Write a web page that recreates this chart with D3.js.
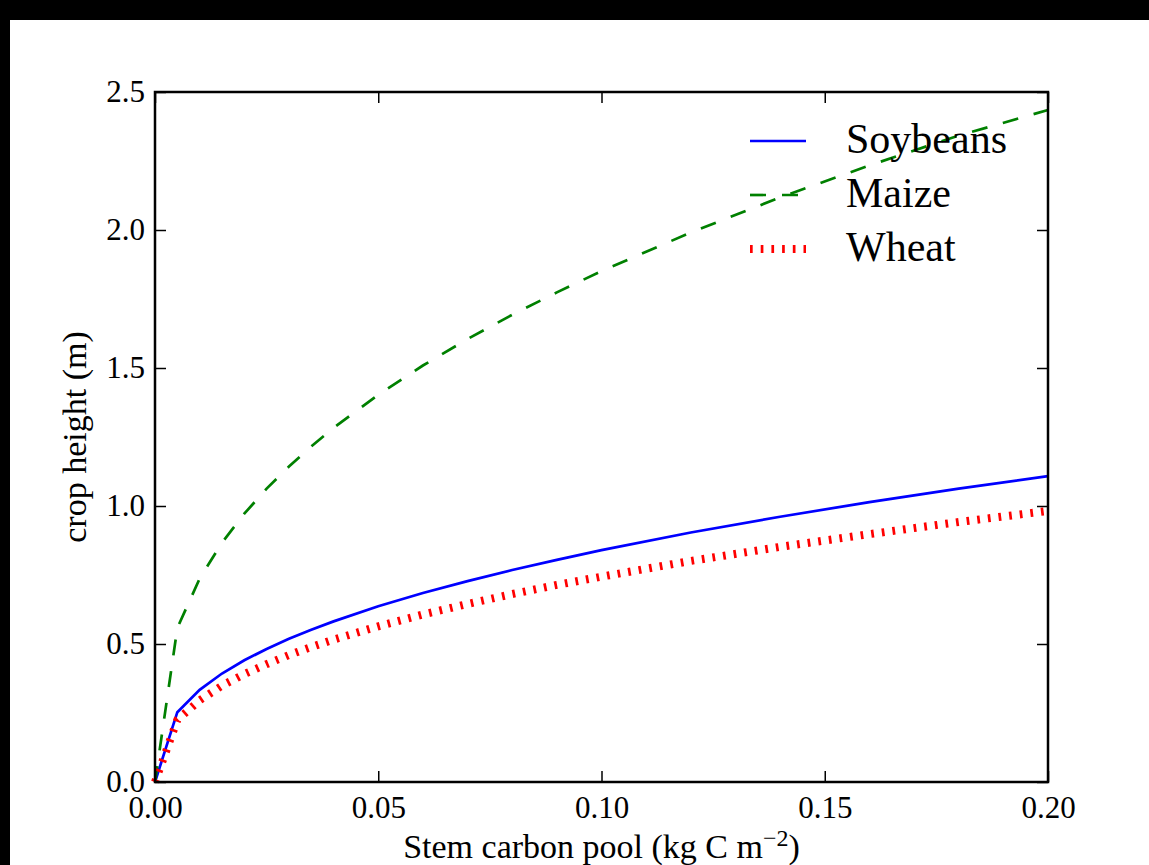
<!DOCTYPE html>
<html>
<head>
<meta charset="utf-8">
<script src="https://cdn.jsdelivr.net/npm/d3@7"></script>
<style>
body{margin:0;background:#fff;}
text{font-family:"Liberation Serif",serif;fill:#000;}
</style>
</head>
<body>
<svg id="chart" width="1149" height="865"></svg>
<script>
// stem carbon pool (kg C m-2) and crop heights (m)
var stemCarbon = [0, 0.005, 0.01, 0.015, 0.02, 0.025, 0.03, 0.035, 0.04, 0.05, 0.06, 0.07, 0.08, 0.09, 0.10, 0.12, 0.14, 0.16, 0.18, 0.20];
var soybeans = [0, 0.253, 0.334, 0.393, 0.441, 0.482, 0.519, 0.552, 0.582, 0.637, 0.685, 0.728, 0.768, 0.805, 0.840, 0.904, 0.961, 1.014, 1.063, 1.108];
var maize    = [0, 0.558, 0.737, 0.867, 0.972, 1.063, 1.143, 1.216, 1.283, 1.403, 1.509, 1.605, 1.693, 1.774, 1.851, 1.991, 2.118, 2.234, 2.342, 2.435];
var wheat    = [0, 0.225, 0.296, 0.349, 0.391, 0.427, 0.460, 0.489, 0.516, 0.564, 0.607, 0.645, 0.681, 0.714, 0.744, 0.801, 0.852, 0.898, 0.942, 0.982];
var cropNames = ["Soybeans", "Maize", "Wheat"];
var xTicks = [0, 0.05, 0.10, 0.15, 0.20];
var yTicks = [0, 0.5, 1.0, 1.5, 2.0, 2.5];

var series = [
  {name: cropNames[0], values: soybeans, color: "#0000ff", width: 2.7, dash: null},
  {name: cropNames[1], values: maize, color: "#008000", width: 2.7, dash: "16,16"},
  {name: cropNames[2], values: wheat, color: "#ff0000", width: 8, dash: "2.7,8"}
];

var svg = d3.select("#chart");
var plotLeft = 155, plotRight = 1048, plotTop = 92, plotBottom = 782;

// black edges of the screenshot
svg.append("rect").attr("x", 0).attr("y", 0).attr("width", 1149).attr("height", 20).attr("fill", "#000");
svg.append("rect").attr("x", 0).attr("y", 0).attr("width", 10).attr("height", 865).attr("fill", "#000");

var x = d3.scaleLinear().domain([0, 0.2]).range([plotLeft, plotRight]);
var y = d3.scaleLinear().domain([0, 2.5]).range([plotBottom, plotTop]);

var line = d3.line()
  .x(function(d, i) { return x(stemCarbon[i]); })
  .y(function(d) { return y(d); });

series.forEach(function(s) {
  svg.append("path")
    .datum(s.values)
    .attr("fill", "none")
    .attr("stroke", s.color)
    .attr("stroke-width", s.width)
    .attr("stroke-dasharray", s.dash)
    .attr("d", line);
});

// axes, ticks pointing inward on all four sides
var gx = svg.append("g").attr("transform", "translate(0," + plotBottom + ")")
  .call(d3.axisBottom(x).tickValues(xTicks).tickFormat(d3.format(".2f")).tickSizeInner(-11).tickSizeOuter(0).tickPadding(14));
var gxt = svg.append("g").attr("transform", "translate(0," + plotTop + ")")
  .call(d3.axisTop(x).tickValues(xTicks).tickFormat("").tickSizeInner(-11).tickSizeOuter(0));
var gy = svg.append("g").attr("transform", "translate(" + plotLeft + ",0)")
  .call(d3.axisLeft(y).tickValues(yTicks).tickFormat(d3.format(".1f")).tickSizeInner(-11).tickSizeOuter(0).tickPadding(10));
var gyr = svg.append("g").attr("transform", "translate(" + plotRight + ",0)")
  .call(d3.axisRight(y).tickValues(yTicks).tickFormat("").tickSizeInner(-11).tickSizeOuter(0));

[gx, gxt, gy, gyr].forEach(function(g) {
  g.select(".domain").remove();
  g.selectAll(".tick line").attr("stroke", "#000").attr("stroke-width", 1.5);
  g.selectAll(".tick text").attr("font-family", "Liberation Serif").attr("font-size", 31).attr("fill", "#000");
});

svg.append("rect")
  .attr("x", plotLeft).attr("y", plotTop)
  .attr("width", plotRight - plotLeft).attr("height", plotBottom - plotTop)
  .attr("fill", "none").attr("stroke", "#000").attr("stroke-width", 2.5);

// axis labels
svg.append("text")
  .attr("transform", "translate(86," + ((plotTop + plotBottom) / 2) + ") rotate(-90)")
  .attr("text-anchor", "middle")
  .attr("font-size", 34)
  .text("crop height (m)");

var xl = svg.append("text")
  .attr("x", (plotLeft + plotRight) / 2).attr("y", 858)
  .attr("text-anchor", "middle")
  .attr("font-size", 34)
  .text("Stem carbon pool (kg C m");
xl.append("tspan").attr("dy", -12).attr("font-size", 24).text("\u22122");
xl.append("tspan").attr("dy", 12).text(")");

// legend, no frame
var legend = svg.append("g");
series.forEach(function(s, i) {
  var ly = 141 + i * 54;
  legend.append("line")
    .attr("x1", 750).attr("x2", 806)
    .attr("y1", ly).attr("y2", ly)
    .attr("stroke", s.color)
    .attr("stroke-width", s.width)
    .attr("stroke-dasharray", s.dash);
  legend.append("text")
    .attr("x", 846).attr("y", ly + 12)
    .attr("font-size", 42)
    .text(s.name);
});
</script>
</body>
</html>
